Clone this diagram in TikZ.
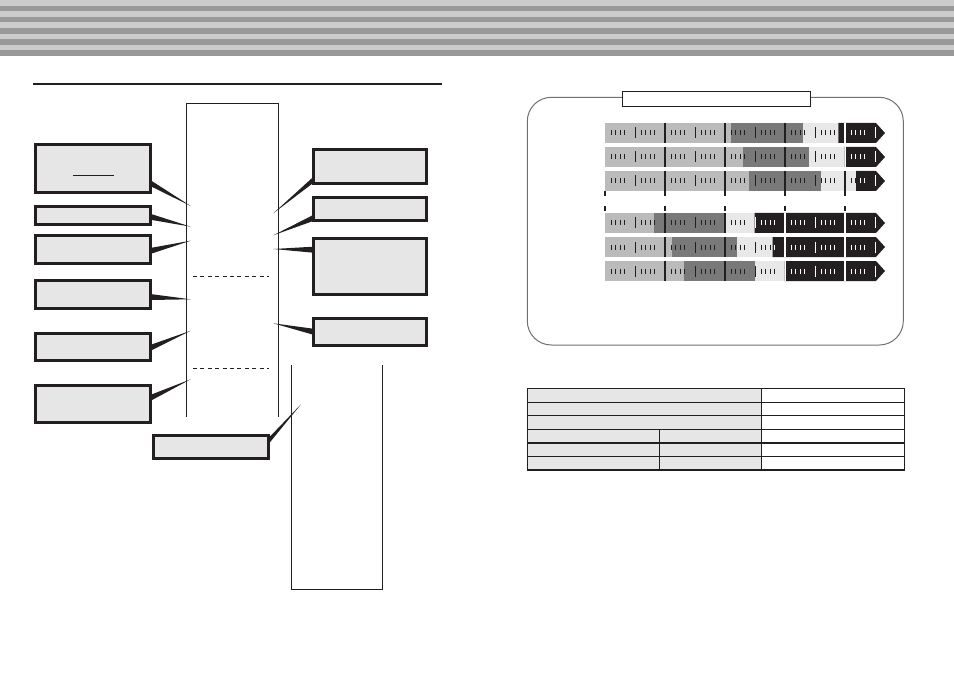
\documentclass[tikz,border=0pt]{standalone}
\usetikzlibrary{calc}
\definecolor{ink}{HTML}{231F20}
\definecolor{stripeL}{HTML}{CCCCCC}
\definecolor{stripeD}{HTML}{999999}
\definecolor{boxfill}{HTML}{E6E6E6}
\definecolor{barL}{HTML}{BBBBBB}
\definecolor{barD}{HTML}{797979}
\definecolor{barVL}{HTML}{E8E8E8}
\definecolor{panelc}{HTML}{707070}

\newcommand\tlticks[2]{%
  \foreach \m in {665,725,785,845} \draw[#2, line width=1.2pt] (\m,#1) -- (\m,#1+20);
  \foreach \m in {635,695,755,815,875} \draw[#2, line width=1pt] (\m,#1+4.5) -- (\m,#1+15.5);
  \foreach \s in {605,635,...,845} \foreach \o in {6,10.5,15,19.5} \draw[#2, line width=0.8pt] (\s+\o,#1+7.5) -- (\s+\o,#1+12.5);
}
\newcommand\tlbar[4]{%
  \fill[barL] (605,#1) rectangle (#2,#1+20);
  \fill[barD] (#2,#1) rectangle (#3,#1+20);
  \fill[barVL] (#3,#1) rectangle (#4,#1+20);
  \fill[ink] (#4,#1) -- (876,#1) -- (885,#1+10) -- (876,#1+20) -- (#4,#1+20) -- cycle;
  \begin{scope}
    \clip (605,#1) rectangle (#4,#1+20);
    \tlticks{#1}{ink}
  \end{scope}
  \begin{scope}
    \clip (#4,#1) rectangle (886,#1+20);
    \tlticks{#1}{white}
  \end{scope}
}
\newcommand\wedgeconn[2]{%
  \fill[wedgefill] (#1) -- ($(#2)+(0,3)$) -- ($(#2)+(0,-3)$) -- cycle;
}

\begin{document}
\begin{tikzpicture}[x=1pt,y=-1pt,
  gbox/.style={draw=ink, line width=3pt, fill=boxfill, inner sep=0pt, outer sep=0pt},
  wedgefill/.style={fill=ink},
  thinline/.style={draw=ink, line width=1pt},
  dashline/.style={draw=ink, line width=1pt, dash pattern=on 4pt off 3.4pt},
  tabline/.style={draw=ink, line width=1.3pt}]
\useasboundingbox (0,0) rectangle (954,674);

% header stripes
\fill[stripeL] (0,0) rectangle (954,56);
\foreach \i in {1,3,5,7,9} \fill[stripeD] (0,\i*5.6) rectangle (954,\i*5.6+5.6);

% rule
\draw[ink, line width=1.5pt] (33,84) -- (442,84);

% central column
\draw[thinline] (186.5,417) -- (186.5,104) -- (278,104) -- (278,417);
\draw[dashline] (193,276) -- (269,276);
\draw[dashline] (193,368) -- (269,368);

% tall rectangle
\draw[thinline] (291.7,365) -- (291.7,589) -- (382.7,589) -- (382.7,365);

% left boxes
\node[gbox, minimum width=114.4, minimum height=47.7] (L1) at (93,168.7) {};
\draw[ink, line width=1pt] (73.3,176) -- (114,176);
\node[gbox, minimum width=114.4, minimum height=18.3] (L2) at (93,215.3) {};
\node[gbox, minimum width=114.4, minimum height=27.7] (L3) at (93,249.7) {};
\node[gbox, minimum width=114.4, minimum height=27.7] (L4) at (93,294.7) {};
\node[gbox, minimum width=114.4, minimum height=26.4] (L5) at (93,347) {};
\node[gbox, minimum width=114.4, minimum height=36.7] (L6) at (93,404.2) {};
\node[gbox, minimum width=114.7, minimum height=23] (B1) at (211.2,447.3) {};

% right boxes
\node[gbox, minimum width=113.6, minimum height=33.7] (R1) at (370,166.7) {};
\node[gbox, minimum width=113.6, minimum height=23] (R2) at (370,208.7) {};
\node[gbox, minimum width=113.6, minimum height=56.3] (R3) at (370,266.3) {};
\node[gbox, minimum width=113.6, minimum height=27.6] (R4) at (370,332) {};

% wedge tips
\coordinate (t1) at (190.7,206);
\coordinate (t2) at (190.7,226.7);
\coordinate (t3) at (190.7,240.7);
\coordinate (t4) at (190.7,299.3);
\coordinate (t5) at (190.7,330.7);
\coordinate (t6) at (190.7,379.3);
\coordinate (tb) at (301,404.3);
\coordinate (r1) at (273.3,213.3);
\coordinate (r2) at (273.3,235.3);
\coordinate (r3) at (273.3,249);
\coordinate (r4) at (273.3,323.3);

% wedge bases
\coordinate (b1) at ($(L1.east)+(0,14.3)$);
\coordinate (b2) at ($(L2.east)+(0,1.4)$);
\coordinate (b3) at ($(L3.east)+(0,1.3)$);
\coordinate (b4) at ($(L4.east)+(0,2.3)$);
\coordinate (b5) at ($(L5.east)+(0,1)$);
\coordinate (b6) at ($(L6.east)+(0,-6.2)$);
\coordinate (bb) at ($(B1.east)+(0,-6.3)$);
\coordinate (c1) at ($(R1.west)+(0,13.3)$);
\coordinate (c2) at ($(R2.west)+(0,9.3)$);
\coordinate (c3) at ($(R3.west)+(0,-16.6)$);
\coordinate (c4) at ($(R4.west)+(0,-0.3)$);

\wedgeconn{t1}{b1}
\wedgeconn{t2}{b2}
\wedgeconn{t3}{b3}
\wedgeconn{t4}{b4}
\wedgeconn{t5}{b5}
\wedgeconn{t6}{b6}
\wedgeconn{tb}{bb}
\wedgeconn{r1}{c1}
\wedgeconn{r2}{c2}
\wedgeconn{r3}{c3}
\wedgeconn{r4}{c4}

% panel
\draw[panelc, line width=1pt, rounded corners=24pt] (527.3,97.3) rectangle (903.3,345);
\node[draw=ink, fill=white, line width=1pt, minimum width=188, minimum height=15, inner sep=0pt] (title) at (716.5,98.8) {};

% bars
\tlbar{123}{731}{802.5}{838.3}
\tlbar{147}{742.7}{808.7}{844.3}
\tlbar{171}{748.7}{820.5}{856}
\foreach \m in {605,665,725,785,845} \draw[ink, line width=1.2pt] (\m,191) -- (\m,196.5);
\foreach \m in {605,665,725,785,845} \draw[ink, line width=1.2pt] (\m,206.5) -- (\m,211);
\tlbar{213}{654}{724.7}{754.7}
\tlbar{237}{671.7}{736.7}{772.7}
\tlbar{261}{683.7}{754.7}{784.3}

% table
\fill[boxfill] (527.3,388.3) rectangle (761.3,470);
\draw[tabline] (527.3,388.3) rectangle (904.3,470);
\foreach \yy in {402.3,415.3,429.3,443,456.3} \draw[tabline] (527.3,\yy) -- (904.3,\yy);
\draw[tabline] (761.3,388.3) -- (761.3,470);
\draw[tabline] (659.3,429.3) -- (659.3,470);
\end{tikzpicture}
\end{document}
